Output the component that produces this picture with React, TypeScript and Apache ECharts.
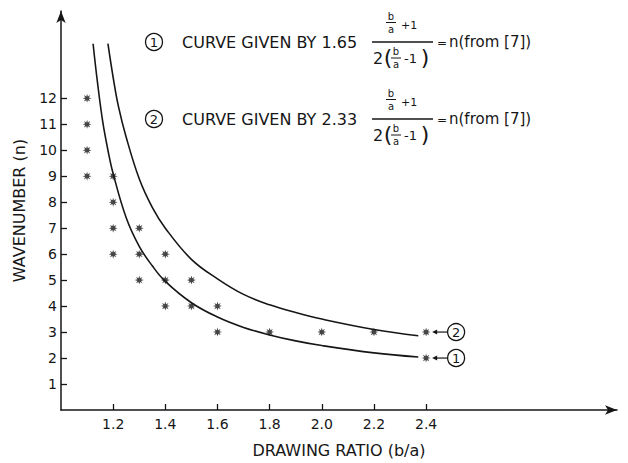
import React, { useEffect, useRef } from "react";
import * as echarts from "echarts";

// ---- data ----
const xTickValues = [1.2, 1.4, 1.6, 1.8, 2.0, 2.2, 2.4];
const yTickValues = [1, 2, 3, 4, 5, 6, 7, 8, 9, 10, 11, 12];

const obsRatio = [1.1, 1.1, 1.1, 1.1, 1.2, 1.2, 1.2, 1.2, 1.3, 1.3, 1.3, 1.4, 1.4, 1.4, 1.5, 1.5, 1.6, 1.6, 1.8, 2.0, 2.2, 2.4, 2.4];
const obsWavenumber = [9, 10, 11, 12, 6, 7, 8, 9, 5, 6, 7, 4, 5, 6, 4, 5, 3, 4, 3, 3, 3, 2, 3];

const curve1Ratio = [1.123, 1.14, 1.16, 1.18, 1.2, 1.25, 1.3, 1.35, 1.4, 1.5, 1.6, 1.7, 1.8, 1.9, 2.0, 2.2, 2.37];
const curve1N = [14.1, 12.6, 11.1, 10.0, 9.1, 7.4, 6.3, 5.55, 4.95, 4.13, 3.58, 3.18, 2.89, 2.66, 2.48, 2.2, 2.04];

const curve2Ratio = [1.18, 1.2, 1.22, 1.25, 1.3, 1.35, 1.4, 1.5, 1.6, 1.7, 1.8, 1.9, 2.0, 2.2, 2.37];
const curve2N = [14.1, 12.8, 11.7, 10.5, 8.9, 7.8, 7.0, 5.8, 5.05, 4.45, 4.05, 3.75, 3.5, 3.1, 2.86];

const curveLabels = ["1", "2"];
const curveCoefs = ["1.65", "2.33"];
const calloutPoints = [
  [2.4, 2],
  [2.4, 3],
];

const FONT = "DejaVu Sans";
const INK = "#161616";
const STAR =
  "path://M20 10 L14.16 11.72 L17.07 17.07 L11.72 14.16 L10 20 L8.28 14.16 L2.93 17.07 L5.84 11.72 L0 10 L5.84 8.28 L2.93 2.93 L8.28 5.84 L10 0 L11.72 5.84 L17.07 2.93 L14.16 8.28 Z";

function txt(x: number, y: number, text: string, size: number, align = "left") {
  return {
    type: "text",
    x,
    y,
    silent: true,
    style: {
      text,
      fill: INK,
      fontSize: size,
      fontFamily: FONT,
      align,
      verticalAlign: "middle",
      textAlign: align,
      textVerticalAlign: "middle",
    },
  };
}

function seg(x1: number, y1: number, x2: number, y2: number, w = 1.3) {
  return {
    type: "line",
    silent: true,
    shape: { x1, y1, x2, y2 },
    style: { stroke: INK, lineWidth: w },
  };
}

function circled(cx: number, cy: number, label: string) {
  return [
    {
      type: "circle",
      silent: true,
      shape: { cx, cy, r: 8.5 },
      style: { fill: "none", stroke: INK, lineWidth: 1.3 },
    },
    txt(cx, cy + 0.5, label, 13, "center"),
  ];
}

function legendRow(cy: number, label: string, coef: string) {
  const els: any[] = [];
  els.push(...circled(154, cy, label));
  els.push(txt(182, cy, "CURVE GIVEN BY " + coef, 16));
  // main fraction bar
  els.push(seg(372, cy, 433, cy));
  // numerator: b/a + 1
  els.push(txt(391, cy - 26, "b", 10, "center"));
  els.push(seg(386, cy - 19.5, 396, cy - 19.5, 1));
  els.push(txt(391, cy - 13, "a", 10, "center"));
  els.push(txt(401, cy - 17, "+1", 11));
  // denominator: 2(b/a - 1)
  els.push(txt(373, cy + 16, "2", 16));
  els.push(txt(388, cy + 15, "(", 22, "center"));
  els.push(txt(396, cy + 9.5, "b", 10, "center"));
  els.push(seg(391, cy + 16, 401, cy + 16, 1));
  els.push(txt(396, cy + 22.5, "a", 10, "center"));
  els.push(txt(404, cy + 16, "-1", 13));
  els.push(txt(425, cy + 15, ")", 22, "center"));
  // right side
  els.push(txt(437, cy + 1, "=", 12));
  els.push(txt(449, cy, "n(from [7])", 15));
  return els;
}

function callout(px: number[], label: string) {
  const x = px[0];
  const y = px[1];
  return [
    seg(x + 9, y, x + 21, y, 1.2),
    {
      type: "polygon",
      silent: true,
      shape: { points: [[x + 6, y], [x + 11, y - 2.5], [x + 11, y + 2.5]] },
      style: { fill: INK },
    },
    ...circled(x + 30, y, label),
  ];
}

export default function App() {
  const ref = useRef<HTMLDivElement>(null);

  useEffect(() => {
    document.body.style.margin = "0";
    const chart = echarts.init(ref.current!, null, { renderer: "svg" });

    const axisTextStyle = { color: INK, fontFamily: FONT, fontSize: 14 };

    chart.setOption({
      animation: false,
      backgroundColor: "#ffffff",
      textStyle: { fontFamily: FONT, color: INK },
      grid: { left: 61, right: 11, top: 11, bottom: 50, containLabel: false },
      xAxis: {
        type: "value",
        min: 1.0,
        max: 3.132,
        name: "DRAWING RATIO (b/a)",
        nameLocation: "middle",
        nameGap: 32,
        nameTextStyle: { color: INK, fontFamily: FONT, fontSize: 16 },
        axisLine: {
          show: true,
          onZero: false,
          symbol: ["none", "arrow"],
          symbolSize: [7, 12],
          lineStyle: { color: INK, width: 1.5 },
        },
        axisTick: {
          show: true,
          inside: true,
          length: 6,
          customValues: xTickValues,
          lineStyle: { color: INK, width: 1.3 },
        },
        axisLabel: {
          ...axisTextStyle,
          margin: 7,
          customValues: xTickValues,
          formatter: (v: number) => v.toFixed(1),
        },
        splitLine: { show: false },
      },
      yAxis: {
        type: "value",
        min: 0,
        max: 15.36,
        name: "WAVENUMBER (n)",
        nameLocation: "middle",
        nameGap: 34,
        nameRotate: 90,
        nameTextStyle: { color: INK, fontFamily: FONT, fontSize: 16 },
        axisLine: {
          show: true,
          onZero: false,
          symbol: ["none", "arrow"],
          symbolSize: [7, 12],
          lineStyle: { color: INK, width: 1.5 },
        },
        axisTick: {
          show: true,
          inside: true,
          length: 6,
          customValues: yTickValues,
          lineStyle: { color: INK, width: 1.3 },
        },
        axisLabel: {
          ...axisTextStyle,
          margin: 4,
          customValues: yTickValues,
          formatter: (v: number) => String(v),
        },
        splitLine: { show: false },
      },
      series: [
        {
          name: "curve 1",
          type: "line",
          smooth: 0.4,
          showSymbol: false,
          silent: true,
          lineStyle: { color: INK, width: 1.6 },
          data: curve1Ratio.map((r, i) => [r, curve1N[i]]),
        },
        {
          name: "curve 2",
          type: "line",
          smooth: 0.4,
          showSymbol: false,
          silent: true,
          lineStyle: { color: INK, width: 1.6 },
          data: curve2Ratio.map((r, i) => [r, curve2N[i]]),
        },
        {
          name: "observed",
          type: "scatter",
          symbol: STAR,
          symbolSize: 9,
          itemStyle: { color: INK },
          z: 5,
          data: obsRatio.map((r, i) => [r, obsWavenumber[i]]),
        },
      ],
    });

    const p1 = chart.convertToPixel({ gridIndex: 0 }, calloutPoints[0]) as number[];
    const p2 = chart.convertToPixel({ gridIndex: 0 }, calloutPoints[1]) as number[];

    chart.setOption({
      graphic: {
        elements: [
          ...legendRow(42, curveLabels[0], curveCoefs[0]),
          ...legendRow(119, curveLabels[1], curveCoefs[1]),
          ...callout(p1, curveLabels[0]),
          ...callout(p2, curveLabels[1]),
        ],
      },
    });

    return () => chart.dispose();
  }, []);

  return (
    <div
      ref={ref}
      style={{ position: "absolute", left: 0, top: 0, width: 628, height: 463 }}
    />
  );
}
